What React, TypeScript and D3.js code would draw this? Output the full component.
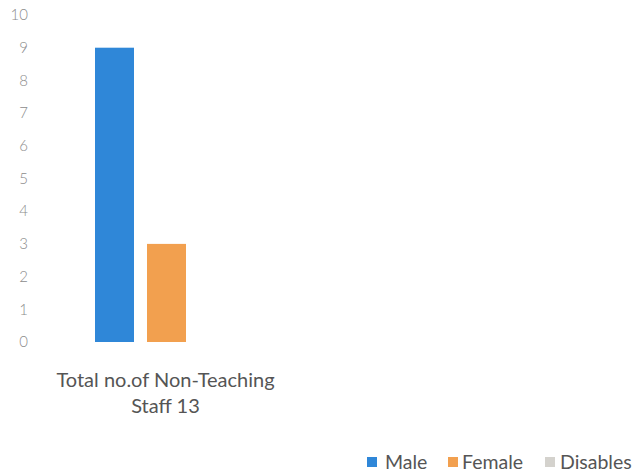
import React from 'react';
import * as d3 from 'd3';

const categories = ['Total no.of Non-Teaching Staff 13'];
const categoryLines = [['Total no.of Non-Teaching', 'Staff 13']];
const seriesNames = ['Male', 'Female', 'Disables'];
const seriesColors = ['#2f87d8', '#f2a04f', '#d4d2cd'];
const maleValues = [9];
const femaleValues = [3];
const disablesValues = [0];
const yTicks = [0, 1, 2, 3, 4, 5, 6, 7, 8, 9, 10];

const W = 632;
const H = 472;
const FONT = 'Lato, "Open Sans", sans-serif';

export default function App() {
  const values = [maleValues, femaleValues, disablesValues];

  const x0 = d3.scaleBand<string>().domain(categories).range([95, 238]).padding(0);
  const x1 = d3
    .scaleBand<string>()
    .domain(seriesNames)
    .range([0, x0.bandwidth()])
    .paddingInner(0.25)
    .paddingOuter(0);
  const y = d3.scaleLinear().domain([0, 10]).range([342, 15]);

  // legend: square x, text x
  const legendPos = [
    [367, 385],
    [448, 462],
    [545, 560],
  ];

  return (
    <svg
      width={W}
      height={H}
      style={{ position: 'absolute', left: 0, top: 0, background: '#fff' }}
      fontFamily={FONT}
    >
      {/* y ticks, no axis line */}
      <g>
        {yTicks.map((t) => (
          <text
            key={t}
            x={28}
            y={y(t)}
            dy="0.35em"
            textAnchor="end"
            fontSize={15}
            fontWeight={300}
            fill="#8c8c8c"
          >
            {t}
          </text>
        ))}
      </g>

      {/* bars */}
      {categories.map((c, ci) => (
        <g key={c} transform={`translate(${x0(c)},0)`}>
          {seriesNames.map((s, si) => {
            const v = values[si][ci];
            return (
              <rect
                key={s}
                x={x1(s)}
                y={y(v)}
                width={x1.bandwidth()}
                height={y(0) - y(v)}
                fill={seriesColors[si]}
              />
            );
          })}
          {categoryLines[ci].map((line, li) => (
            <text
              key={li}
              x={x0.bandwidth() / 2 - 1}
              y={387 + li * 26}
              textAnchor="middle"
              fontSize={20}
              fill="#555"
            >
              {line}
            </text>
          ))}
        </g>
      ))}

      {/* legend */}
      <g>
        {seriesNames.map((s, i) => (
          <g key={s} transform="translate(0,462)">
            <rect x={legendPos[i][0]} y={-5} width={10} height={10} fill={seriesColors[i]} />
            <text x={legendPos[i][1]} y={0} dy="0.35em" fontSize={19.5} fill="#555">
              {s}
            </text>
          </g>
        ))}
      </g>
    </svg>
  );
}
